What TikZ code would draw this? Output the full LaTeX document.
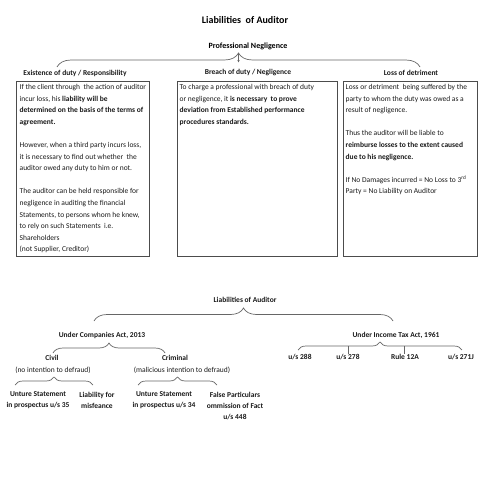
\documentclass[tikz,border=0pt]{standalone}
\usepackage{fontspec}
\setmainfont{Carlito}
\usetikzlibrary{decorations.pathreplacing,arrows.meta}

\begin{document}
\begin{tikzpicture}[x=1pt, y=-1pt,
    head/.style={font=\fontsize{7.5}{9}\selectfont\bfseries, inner sep=0pt, text=black!90},
    note/.style={font=\fontsize{7.5}{10.8}\selectfont, inner sep=0pt, align=center, text=black!90},
    panel/.style={draw=black!70, line width=0.6pt, inner sep=0pt},
    paneltext/.style={font=\fontsize{7.5}{11.6}\selectfont, inner sep=0pt, align=left, anchor=north west, text=black!90},
    curly/.style={draw=black!60, line width=0.7pt, decorate, decoration={brace, amplitude=#1}}]
  \useasboundingbox (0,0) rectangle (495,495);

  % Titles
  \node[font=\fontsize{10}{12}\selectfont\bfseries, inner sep=0pt] (title) at (245,20) {Liabilities\ \ of Auditor};
  \node[font=\fontsize{8}{10}\selectfont\bfseries, inner sep=0pt] (profneg) at (248,46) {Professional Negligence};

  % Brace below Professional Negligence
  \coordinate (pnL) at (57,67);
  \coordinate (pnR) at (420,67);
  \coordinate (pnTip) at (238.5,54);
  \coordinate (pnDown) at (238.5,62.5);
  \draw[curly=14] (pnL) -- (pnR);
  \draw[draw=black!60, line width=0.6pt, -{Stealth[length=2.5pt,width=2.2pt]}] (pnTip) -- (pnDown);

  % Headings of the three panels
  \node[head] (exist) at (75,73) {Existence of duty / Responsibility};
  \node[head] (breach) at (248,73) {Breach of duty / Negligence};
  \node[head] (loss) at (411,73) {Loss of detriment};

  % Panels
  \node[panel, minimum width=132.6pt, minimum height=175pt] (existbox) at (83,168.5) {};
  \node[panel, minimum width=160pt, minimum height=175pt] (breachbox) at (257,168.5) {};
  \node[panel, minimum width=134pt, minimum height=175pt] (lossbox) at (410,168.5) {};

  \node[paneltext] (existtxt) at (19.5,84) {If the client through\ \ the action of auditor\\
    incur loss, his \textbf{liability will be}\\
    \textbf{determined on the basis of the terms of}\\
    \textbf{agreement.}\\[11.6pt]
    However, when a third party incurs loss,\\
    it is necessary to find out whether\ \ the\\
    auditor owed any duty to him or not.\\[11.6pt]
    The auditor can be held responsible for\\
    negligence in auditing the financial\\
    Statements, to persons whom he knew,\\
    to rely on such Statements\ \ i.e.\\
    Shareholders\\
    (not Supplier, Creditor)};

  \node[paneltext] (breachtxt) at (179.5,84) {To charge a professional with breach of duty\\
    or negligence, it \textbf{is necessary\ \ to prove}\\
    \textbf{deviation from Established performance}\\
    \textbf{procedures standards.}};

  \node[paneltext] (losstxt) at (345.5,84) {Loss or detriment\ \ being suffered by the\\
    party to whom the duty was owed as a\\
    result of negligence.\\[11.6pt]
    Thus the auditor will be liable to\\
    \textbf{reimburse losses to the extent caused}\\
    \textbf{due to his negligence.}\\[11.6pt]
    If No Damages incurred = No Loss to 3\textsuperscript{rd}\\
    Party = No Liability on Auditor};

  % Second chart
  \node[head] (liab) at (245,300) {Liabilities of Auditor};
  \coordinate (liL) at (94,321);
  \coordinate (liR) at (393,321);
  \draw[curly=13] (liL) -- (liR);

  \node[head] (coact) at (102,335) {Under Companies Act, 2013};
  \node[head] (itact) at (396,335) {Under Income Tax Act, 1961};

  % Companies Act branch
  \coordinate (coL) at (53,353);
  \coordinate (coR) at (165,353);
  \draw[curly=10] (coL) -- (coR);
  \node[head] (civil) at (52,358) {Civil};
  \node[note] (civilsub) at (53,370.5) {(no intention to defraud)};
  \node[head] (crim) at (175,358) {Criminal};
  \node[note] (crimsub) at (182,370.5) {(malicious intention to defraud)};

  \coordinate (cvL) at (15,385);
  \coordinate (cvR) at (93,385);
  \draw[curly=8] (cvL) -- (cvR);
  \coordinate (crL) at (138,385);
  \coordinate (crR) at (217,385);
  \draw[curly=8] (crL) -- (crR);

  \node[note] (untrue35) at (38,400.5) {\textbf{Unture Statement}\\\textbf{in prospectus u/s 35}};
  \node[note] (misfeance) at (97,400.5) {\textbf{Liability for}\\\textbf{misfeance}};
  \node[note] (untrue34) at (164,400.5) {\textbf{Unture Statement}\\\textbf{in prospectus u/s 34}};
  \node[note] (falsepart) at (235,406) {\textbf{False Particulars}\\\textbf{ommission of Fact}\\\textbf{u/s 448}};

  % Income Tax Act branch
  \coordinate (itL) at (298,350);
  \coordinate (itR) at (462,350);
  \draw[curly=8] (itL) -- (itR);
  \node[head] (us288) at (300,357) {u/s 288};
  \node[head] (us278) at (348,357) {u/s 278};
  \node[head] (rule12a) at (405,357) {Rule 12A};
  \node[head] (us271j) at (461,357) {u/s 271J};
  \draw[draw=black!60, line width=0.6pt] (348,346) -- (us278.north);
  \draw[draw=black!60, line width=0.6pt] (404,346) -- (rule12a.north -| 404,0);
\end{tikzpicture}
\end{document}
